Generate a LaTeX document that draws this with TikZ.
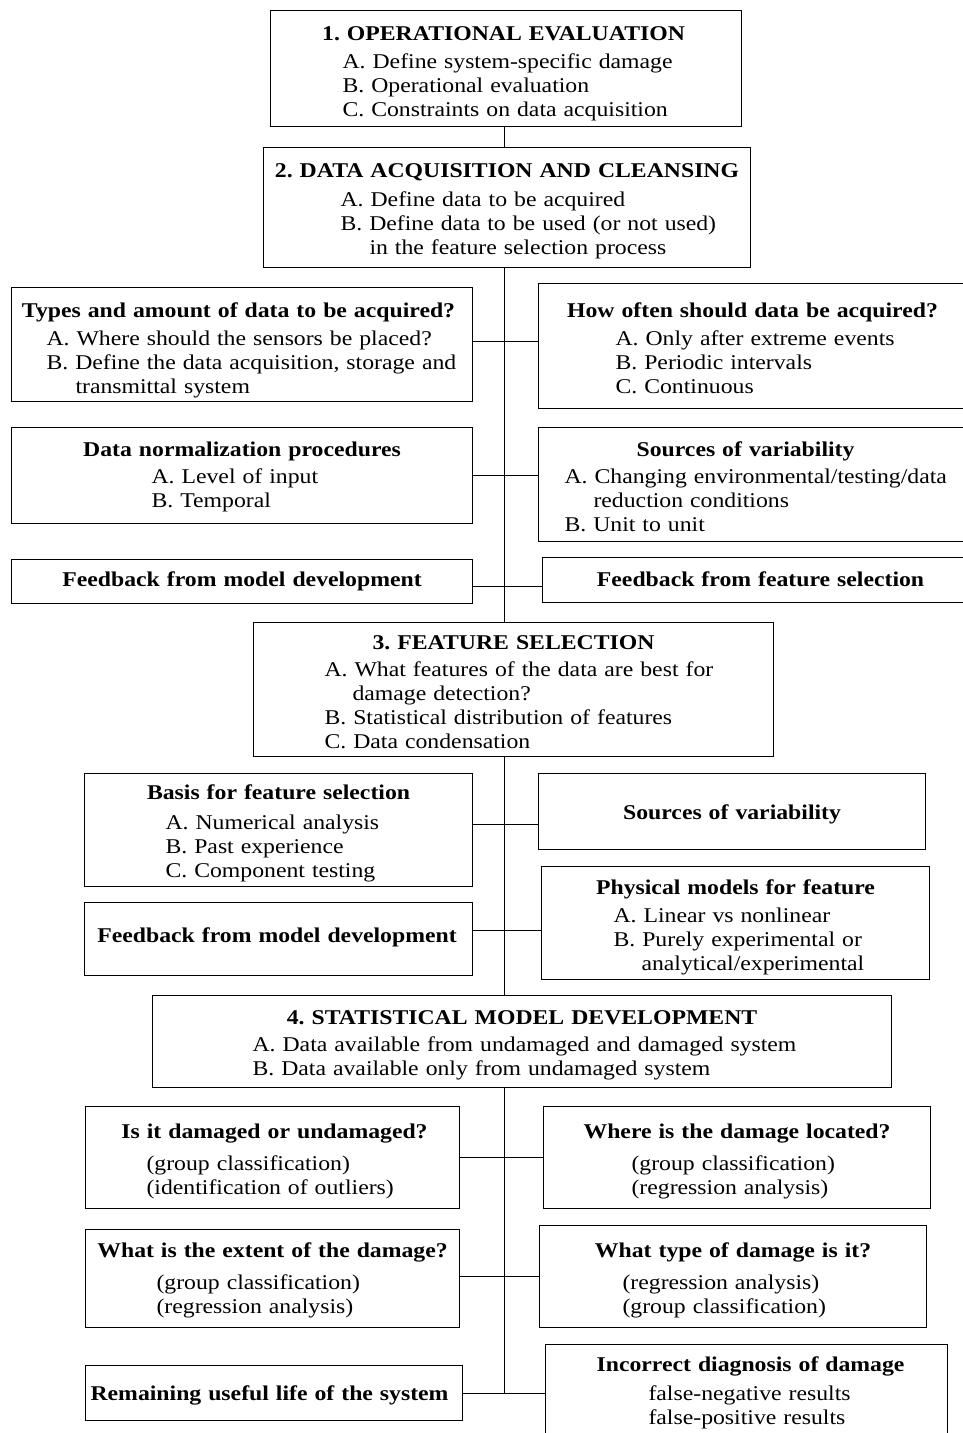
\documentclass[tikz,border=0pt]{standalone}
\usepackage{fontspec}
\setmainfont{Liberation Serif}[FakeStretch=1.13]
\frenchspacing

\newcommand{\boxtitle}[2][0pt]{\makebox[\hsize]{\hspace*{#1}\bfseries #2}}

\begin{document}
\begin{tikzpicture}[x=1pt, y=-1pt,
    box/.style={draw, line width=1.1pt, anchor=north west, inner sep=0pt,
      align=left, font=\fontsize{21}{24}\selectfont},
    link/.style={line width=1pt}]

    \useasboundingbox (0,0) rectangle (963,1433);
    \clip (0,0) rectangle (963,1433);
    \coordinate (spine) at (504,0);

    % main steps
    \node[box, text width=471pt, text height=30pt, text depth=86pt] (op) at (270,10)
      {\boxtitle[-5pt]{1. OPERATIONAL EVALUATION}\\[4pt]
       \hspace*{72pt}A. Define system-specific damage\\
       \hspace*{72pt}B. Operational evaluation\\
       \hspace*{72pt}C. Constraints on data acquisition};
    \node[box, text width=487pt, text height=30pt, text depth=90pt] (acq) at (263,147)
      {\boxtitle{2. DATA ACQUISITION AND CLEANSING}\\[5pt]
       \hspace*{77pt}A. Define data to be acquired\\
       \hspace*{77pt}B. Define data to be used (or not used)\\
       \hspace*{106pt}in the feature selection process};
    \node[box, text width=520pt, text height=27pt, text depth=107pt] (feat) at (253,622)
      {\boxtitle{3. FEATURE SELECTION}\\[3pt]
       \hspace*{71pt}A. What features of the data are best for\\
       \hspace*{99pt}damage detection?\\
       \hspace*{71pt}B. Statistical distribution of features\\
       \hspace*{71pt}C. Data condensation};
    \node[box, text width=739pt, text height=29pt, text depth=63pt] (stat) at (152,995)
      {\boxtitle{4. STATISTICAL MODEL DEVELOPMENT}\\[3pt]
       \hspace*{100pt}A. Data available from undamaged and damaged system\\
       \hspace*{100pt}B. Data available only from undamaged system};

    % step 2 branches
    \node[box, text width=461pt, text height=30pt, text depth=84pt] (types) at (11,287)
      {\boxtitle[-7pt]{Types and amount of data to be acquired?}\\[4pt]
       \hspace*{35pt}A. Where should the sensors be placed?\\
       \hspace*{35pt}B. Define the data acquisition, storage and\\
       \hspace*{64pt}transmittal system};
    \node[box, text width=428pt, text height=34pt, text depth=91pt] (often) at (538,283)
      {\boxtitle{How often should data be acquired?}\\[4pt]
       \hspace*{77pt}A. Only after extreme events\\
       \hspace*{77pt}B. Periodic intervals\\
       \hspace*{77pt}C. Continuous};
    \node[box, text width=461pt, text height=29pt, text depth=67pt] (norm) at (11,427)
      {\boxtitle{Data normalization procedures}\\[3pt]
       \hspace*{140pt}A. Level of input\\
       \hspace*{140pt}B. Temporal};
    \node[box, text width=428pt, text height=29pt, text depth=85pt] (vari) at (538,427)
      {\boxtitle[-14pt]{Sources of variability}\\[3pt]
       \hspace*{26pt}A. Changing environmental/testing/data\\
       \hspace*{55pt}reduction conditions\\
       \hspace*{26pt}B. Unit to unit};
    \node[box, text width=461pt, text height=27pt, text depth=17pt] (fbmodel) at (11,559)
      {\boxtitle{Feedback from model development}};
    \node[box, text width=424pt, text height=29pt, text depth=16pt] (fbfeat) at (542,557)
      {\boxtitle[12pt]{Feedback from feature selection}};

    % step 3 branches
    \node[box, text width=388pt, text height=26pt, text depth=87pt] (basis) at (84,773)
      {\boxtitle{Basis for feature selection}\\[6pt]
       \hspace*{81pt}A. Numerical analysis\\
       \hspace*{81pt}B. Past experience\\
       \hspace*{81pt}C. Component testing};
    \node[box, text width=387pt, text height=46pt, text depth=30pt] (vari2) at (538,773)
      {\boxtitle{Sources of variability}};
    \node[box, text width=388pt, text height=40pt, text depth=33pt] (fbmodel2) at (84,902)
      {\boxtitle[-3pt]{Feedback from model development}};
    \node[box, text width=388pt, text height=28pt, text depth=85pt] (phys) at (541,866)
      {\boxtitle{Physical models for feature}\\[4pt]
       \hspace*{72pt}A. Linear vs nonlinear\\
       \hspace*{72pt}B. Purely experimental or\\
       \hspace*{100pt}analytical/experimental};

    % step 4 branches
    \node[box, text width=374pt, text height=32pt, text depth=70pt] (dmg) at (85,1106)
      {\boxtitle[4pt]{Is it damaged or undamaged?}\\[8pt]
       \hspace*{61pt}(group classification)\\
       \hspace*{61pt}(identification of outliers)};
    \node[box, text width=387pt, text height=32pt, text depth=70pt] (loc) at (543,1106)
      {\boxtitle{Where is the damage located?}\\[8pt]
       \hspace*{88pt}(group classification)\\
       \hspace*{88pt}(regression analysis)};
    \node[box, text width=374pt, text height=28pt, text depth=70pt] (extent) at (85,1229)
      {\boxtitle{What is the extent of the damage?}\\[8pt]
       \hspace*{71pt}(group classification)\\
       \hspace*{71pt}(regression analysis)};
    \node[box, text width=387pt, text height=32pt, text depth=70pt] (kind) at (539,1225)
      {\boxtitle{What type of damage is it?}\\[8pt]
       \hspace*{83pt}(regression analysis)\\
       \hspace*{83pt}(group classification)};
    \node[box, text width=377pt, text height=35pt, text depth=20pt] (life) at (85,1365)
      {\boxtitle[-9pt]{Remaining useful life of the system}};
    \node[box, text width=402pt, text height=27pt, text depth=74pt] (diag) at (545,1344)
      {\boxtitle[8pt]{Incorrect diagnosis of damage}\\[5pt]
       \hspace*{103pt}false-negative results\\
       \hspace*{103pt}false-positive results};

    % spine
    \draw[link] (op.south -| spine) -- (acq.north -| spine);
    \draw[link] (acq.south -| spine) -- (feat.north -| spine);
    \draw[link] (feat.south -| spine) -- (stat.north -| spine);
    \draw[link] (stat.south -| spine) -- (life.east -| spine);

    % side links
    \draw[link] ([yshift=3pt]types.east) coordinate (c1) -- (c1 -| often.west);
    \draw[link] (norm.east) coordinate (c2) -- (c2 -| vari.west);
    \draw[link] ([yshift=-5pt]fbmodel.east) coordinate (c3) -- (c3 -| fbfeat.west);
    \draw[link] ([yshift=5.5pt]basis.east) coordinate (c4) -- (c4 -| vari2.west);
    \draw[link] ([yshift=8.5pt]fbmodel2.east) coordinate (c5) -- (c5 -| phys.west);
    \draw[link] (dmg.east) coordinate (c6) -- (c6 -| loc.west);
    \draw[link] ([yshift=2pt]extent.east) coordinate (c7) -- (c7 -| kind.west);
    \draw[link] (life.east) coordinate (c8) -- (c8 -| diag.west);
\end{tikzpicture}
\end{document}
